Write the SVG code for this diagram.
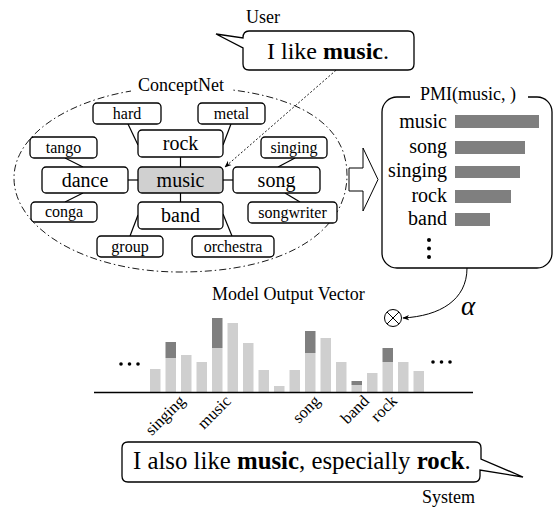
<svg xmlns="http://www.w3.org/2000/svg" width="557" height="507" viewBox="0 0 557 507" font-family="'Liberation Serif','Times New Roman',serif">
<defs>
<style>
text{font-family:"Liberation Serif","Times New Roman",serif;fill:#000}
.box{fill:#fff;stroke:#000;stroke-width:1.3}
.big{font-size:20px;text-anchor:middle}
.small{font-size:16px;text-anchor:middle}
.edge{stroke:#000;stroke-width:1.2;fill:none}
.lt{fill:#cfcfcf}
.dk{fill:#7f7f7f}
.pmi{font-size:20px;text-anchor:end}
.lab{font-size:16.5px;text-anchor:end}
</style>
<marker id="ah" viewBox="0 0 10 10" refX="9" refY="5" markerWidth="7" markerHeight="7" orient="auto" markerUnits="userSpaceOnUse">
<path d="M0,1 L10,5 L0,9 L3,5 Z" fill="#000"/>
</marker>
</defs>
<rect width="557" height="507" fill="#fff"/>

<!-- ConceptNet region -->
<g id="conceptnet">
<path d="M180,87 C285,87 347,118 347,175 C347,232 285,272 180,272 C88,272 14,230 14,178 C14,128 88,87 180,87 Z" fill="none" stroke="#000" stroke-width="0.9" stroke-dasharray="7,3,1.5,3"/>
<rect x="131" y="75" width="100" height="20" fill="#fff"/>
<text x="181" y="91" font-size="18" text-anchor="middle">ConceptNet</text>
</g>

<!-- connectors -->
<g id="connectors">
<line class="edge" x1="128" y1="124" x2="138" y2="145"/>
<line class="edge" x1="231" y1="124" x2="223" y2="145"/>
<line class="edge" x1="65" y1="158" x2="83" y2="167"/>
<line class="edge" x1="65" y1="202" x2="83" y2="193"/>
<line class="edge" x1="180.5" y1="157" x2="180.5" y2="167"/>
<line class="edge" x1="180.5" y1="193" x2="180.5" y2="202"/>
<line class="edge" x1="128" y1="180" x2="138" y2="180"/>
<line class="edge" x1="223" y1="180" x2="233" y2="180"/>
<line class="edge" x1="295" y1="158" x2="278" y2="167"/>
<line class="edge" x1="285" y1="193" x2="300" y2="202"/>
<line class="edge" x1="138" y1="215" x2="130" y2="236"/>
<line class="edge" x1="223" y1="214" x2="232" y2="236"/>
<line x1="342" y1="65" x2="225" y2="167" stroke="#000" stroke-width="0.9" stroke-dasharray="2,2" marker-end="url(#ah)"/>
<path d="M349,168 H363 V148 L378,179.5 L363,211 V191 H349 Z" fill="#fff" stroke="#000" stroke-width="1"/>
<path d="M467,268 C467,300 440,316 403,318" fill="none" stroke="#000" stroke-width="1" marker-end="url(#ah)"/>
</g>

<!-- nodes -->
<g id="node-hard"><rect class="box" x="93" y="103" width="68" height="21" rx="4"/><text class="small" x="127" y="119">hard</text></g>
<g id="node-metal"><rect class="box" x="198" y="103" width="67" height="21" rx="4"/><text class="small" x="231.5" y="119">metal</text></g>
<g id="node-rock"><rect class="box" x="138" y="130" width="85" height="27" rx="4"/><text class="big" x="180.5" y="150">rock</text></g>
<g id="node-tango"><rect class="box" x="30" y="137" width="67" height="21" rx="4"/><text class="small" x="63.5" y="153">tango</text></g>
<g id="node-singing"><rect class="box" x="261" y="137" width="66" height="21" rx="4"/><text class="small" x="294" y="153">singing</text></g>
<g id="node-dance"><rect class="box" x="42" y="167" width="86" height="26" rx="4"/><text class="big" x="85" y="187">dance</text></g>
<g id="node-music"><rect x="138" y="167" width="85" height="26" rx="4" fill="#d0d0d0" stroke="#000" stroke-width="1.3"/><text class="big" x="180.5" y="187">music</text></g>
<g id="node-song"><rect class="box" x="233" y="167" width="87" height="26" rx="4"/><text class="big" x="276.5" y="187">song</text></g>
<g id="node-conga"><rect class="box" x="31" y="202" width="66" height="20" rx="4"/><text class="small" x="64" y="217">conga</text></g>
<g id="node-band"><rect class="box" x="138" y="202" width="85" height="27" rx="4"/><text class="big" x="180.5" y="222">band</text></g>
<g id="node-songwriter"><rect class="box" x="248" y="202" width="89" height="21" rx="4"/><text class="small" x="292.5" y="218">songwriter</text></g>
<g id="node-group"><rect class="box" x="97" y="236" width="66" height="21" rx="4"/><text class="small" x="130" y="252">group</text></g>
<g id="node-orchestra"><rect class="box" x="192" y="236" width="82" height="21" rx="4"/><text class="small" x="233" y="252">orchestra</text></g>

<!-- user bubble -->
<g id="user">
<text x="246" y="23" font-size="18">User</text>
<path d="M249,31 H408 Q414,31 414,37 V64 Q414,70 408,70 H249 Q243,70 243,64 V48 L216,34 L243,38 Q243,31 249,31 Z" fill="#fff" stroke="#000" stroke-width="1.3"/>
<text x="267" y="59" font-size="24">I like <tspan font-weight="bold">music</tspan>.</text>
</g>

<!-- PMI box -->
<g id="pmi">
<rect x="382" y="97" width="170" height="171" rx="15" fill="#fff" stroke="#000" stroke-width="1.3"/>
<rect x="410" y="88" width="118" height="18" fill="#fff"/>
<text x="420" y="100" font-size="18">PMI(music, )</text>
<text class="pmi" x="447" y="128">music</text><rect class="dk" x="455" y="115" width="84" height="13"/>
<text class="pmi" x="447" y="153">song</text><rect class="dk" x="455" y="141" width="70" height="13"/>
<text class="pmi" x="447" y="177">singing</text><rect class="dk" x="455" y="166" width="65" height="12"/>
<text class="pmi" x="447" y="202">rock</text><rect class="dk" x="455" y="190" width="56" height="13"/>
<text class="pmi" x="447" y="225">band</text><rect class="dk" x="455" y="213" width="35" height="13"/>
<circle cx="429" cy="240" r="2"/><circle cx="429" cy="248.5" r="2"/><circle cx="429" cy="257" r="2"/>
</g>

<!-- combine -->
<g id="otimes">
<circle cx="393" cy="318" r="8.5" fill="#fff" stroke="#000" stroke-width="1"/>
<line x1="387" y1="312" x2="399" y2="324" stroke="#000" stroke-width="1"/>
<line x1="399" y1="312" x2="387" y2="324" stroke="#000" stroke-width="1"/>
<text x="461" y="315" font-size="27" font-style="italic">α</text>
</g>

<!-- output vector -->
<g id="vector">
<text x="212" y="300" font-size="18">Model Output Vector</text>
<rect class="lt" x="150" y="369" width="10.5" height="23"/>
<rect class="lt" x="165.5" y="358" width="10.5" height="34"/><rect class="dk" x="165.5" y="342" width="10.5" height="16"/>
<rect class="lt" x="181" y="355" width="10.5" height="37"/>
<rect class="lt" x="196.5" y="362" width="10.5" height="30"/>
<rect class="lt" x="212" y="348" width="10.5" height="44"/><rect class="dk" x="212" y="318" width="10.5" height="30"/>
<rect class="lt" x="227.5" y="323" width="10.5" height="69"/>
<rect class="lt" x="243" y="343" width="10.5" height="49"/>
<rect class="lt" x="258.5" y="370" width="10.5" height="22"/>
<rect class="lt" x="274" y="386" width="10.5" height="6"/>
<rect class="lt" x="289.5" y="370" width="10.5" height="22"/>
<rect class="lt" x="305" y="353" width="10.5" height="39"/><rect class="dk" x="305" y="331" width="10.5" height="22"/>
<rect class="lt" x="320.5" y="338" width="10.5" height="54"/>
<rect class="lt" x="336" y="362" width="10.5" height="30"/>
<rect class="lt" x="351.5" y="385" width="10.5" height="7"/><rect class="dk" x="351.5" y="381" width="10.5" height="4"/>
<rect class="lt" x="367" y="373" width="10.5" height="19"/>
<rect class="lt" x="382.5" y="362" width="10.5" height="30"/><rect class="dk" x="382.5" y="348" width="10.5" height="14"/>
<rect class="lt" x="398" y="362" width="10.5" height="30"/>
<rect class="lt" x="413.5" y="371" width="10.5" height="21"/>
<line x1="94" y1="392.5" x2="473" y2="392.5" stroke="#000" stroke-width="1.5"/>
<circle cx="121" cy="364" r="1.8"/><circle cx="129.5" cy="364" r="1.8"/><circle cx="138" cy="364" r="1.8"/>
<circle cx="433" cy="362" r="1.8"/><circle cx="441.5" cy="362" r="1.8"/><circle cx="450" cy="362" r="1.8"/>
<text class="lab" transform="translate(186,402) rotate(-45)">singing</text>
<text class="lab" transform="translate(232,402) rotate(-45)">music</text>
<text class="lab" transform="translate(321,402) rotate(-45)">song</text>
<text class="lab" transform="translate(370,402) rotate(-45)">band</text>
<text class="lab" transform="translate(398,402) rotate(-45)">rock</text>
</g>

<!-- system bubble -->
<g id="system">
<path d="M128,442 H475 Q481,442 481,448 V459 L523,477 L480,470 V476 Q480,482 474,482 H128 Q122,482 122,476 V448 Q122,442 128,442 Z" fill="#fff" stroke="#000" stroke-width="1.3"/>
<text x="133" y="469" font-size="24.8">I also like <tspan font-weight="bold">music</tspan>, especially <tspan font-weight="bold">rock</tspan>.</text>
<text x="422" y="503" font-size="18">System</text>
</g>
</svg>
